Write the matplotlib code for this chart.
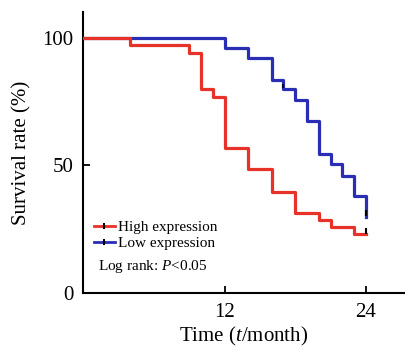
import matplotlib
matplotlib.use("Agg")
import matplotlib.pyplot as plt
from matplotlib.lines import Line2D

# Kaplan-Meier step data (time in months, survival %)
high_t = [0, 4, 9, 10, 11, 12, 14, 16, 18, 20, 21, 23, 24]
high_s = [100, 97, 94, 80, 77, 57, 48.5, 39.5, 31.5, 28.5, 25.7, 23, 23]
low_t = [0, 12, 14, 16, 17, 18, 19, 20, 21, 22, 23, 24]
low_s = [100, 96, 92, 83.5, 80, 75.5, 67.5, 54.5, 50.5, 46, 38, 30]
series_labels = ["High expression", "Low expression"]
x_ticks = [12, 24]
y_ticks = [0, 50, 100]

red = "#e63228"
blue = "#2a2eb4"

plt.rcParams['font.family'] = ['Liberation Serif', 'DejaVu Serif']
plt.rcParams['mathtext.fontset'] = 'custom'
plt.rcParams['mathtext.rm'] = 'Liberation Serif'
plt.rcParams['mathtext.it'] = 'Liberation Serif:italic'
fig = plt.figure(figsize=(4.06, 3.51), dpi=100)
ax = fig.add_axes([0.2044, 0.165, 0.793, 0.80])

ax.step(low_t, low_s, where='post', color=blue, lw=2.3, zorder=2)
ax.step(high_t, high_s, where='post', color=red, lw=2.3, zorder=3)
# censor marks at the ends
ax.plot([high_t[-1]], [high_s[-1] + 1.5], marker='|', color='black', ms=4, mew=1.5, zorder=4)
ax.plot([low_t[-1]], [low_s[-1] + 1.5], marker='|', color='black', ms=4, mew=1.5, zorder=4)
ax.plot([17], [81], marker='|', color='black', ms=3, mew=1.2, zorder=4)

ax.set_xlim(0, 27.3)
ax.set_ylim(0, 110)
ax.set_xticks(x_ticks)
ax.set_yticks(y_ticks)
ax.tick_params(direction='in', length=5, width=1.3, labelsize=15, pad=7)
for s in ['top', 'right']:
    ax.spines[s].set_visible(False)
for s in ['left', 'bottom']:
    ax.spines[s].set_linewidth(1.5)

ax.set_ylabel("Survival rate (%)", fontsize=15, labelpad=8)
ax.set_xlabel("Time ($\\it{t}$/month)", fontsize=15, labelpad=2)

handles = [
    Line2D([], [], color=red, lw=2, marker='|', markeredgecolor='black', ms=4, mew=1.5),
    Line2D([], [], color=blue, lw=2, marker='|', markeredgecolor='black', ms=4, mew=1.5),
]
ax.legend(handles, series_labels, loc='lower left', bbox_to_anchor=(0.0, 0.115),
          frameon=False, fontsize=11, handlelength=1.4, handletextpad=0.2,
          labelspacing=0.15, borderpad=0.2)
ax.text(0.047, 0.095, "Log rank: $\\it{P}$<0.05", transform=ax.transAxes,
        fontsize=11, va='center', ha='left')

fig.savefig("out.png", dpi=100)
